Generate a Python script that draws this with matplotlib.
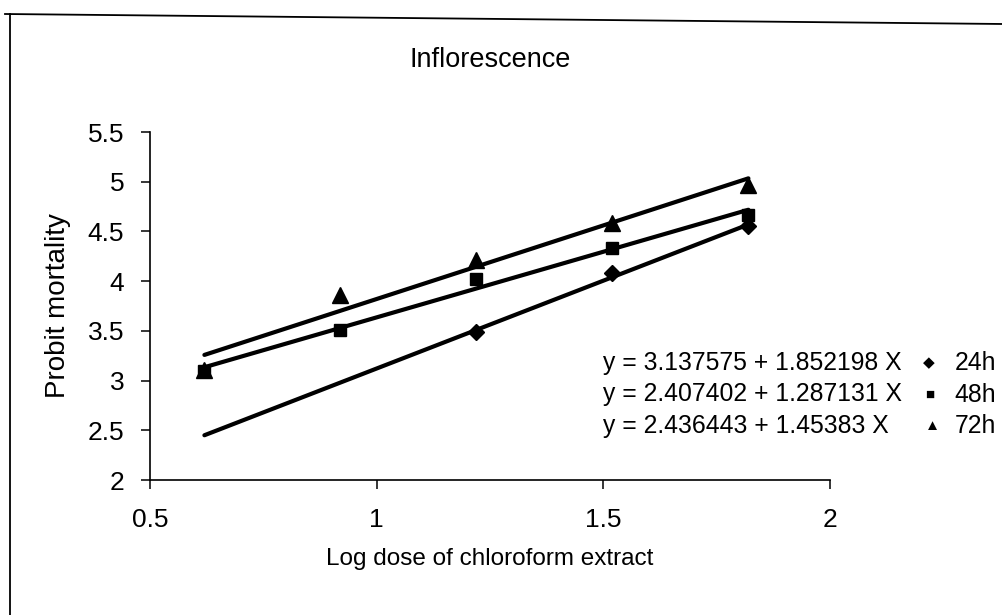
import numpy as np
import matplotlib.pyplot as plt
from matplotlib.lines import Line2D

plt.rcParams["font.family"] = ["Liberation Sans", "DejaVu Sans"]

log_dose = np.array([0.62, 0.92, 1.22, 1.52, 1.82])
probit_24h = np.array([np.nan, np.nan, 3.49, 4.08, 4.55])
probit_48h = np.array([3.10, 3.51, 4.02, 4.33, 4.67])
probit_72h = np.array([3.11, 3.86, 4.21, 4.58, 4.97])

equations = [
    "y = 3.137575 + 1.852198 X",
    "y = 2.407402 + 1.287131 X",
    "y = 2.436443 + 1.45383 X",
]
series_marks = ["\u25c6", "\u25a0", "\u25b2"]
series_names = ["24h", "48h", "72h"]

W, H = 1003, 615
fig = plt.figure(figsize=(W / 100, H / 100), dpi=100)
ax = fig.add_axes([150 / W, 1 - 480 / H, 680 / W, 348 / H])


def fit_line(x, y):
    ok = ~np.isnan(y)
    b, a = np.polyfit(x[ok], y[ok], 1)
    xs = np.array([log_dose[0], log_dose[-1]])
    return xs, a + b * xs


for y, mk, ms in [(probit_24h, "D", 8), (probit_48h, "s", 9), (probit_72h, "^", 11)]:
    xs, ys = fit_line(log_dose, y)
    ax.plot(xs, ys, color="black", lw=3, solid_capstyle="round")
    ax.plot(log_dose, y, ls="none", marker=mk, ms=ms, color="black")

ax.set_xlim(0.5, 2)
ax.set_ylim(2, 5.5)
ax.set_xticks([0.5, 1, 1.5, 2])
ax.set_xticklabels(["0.5", "1", "1.5", "2"])
ax.set_yticks([2, 2.5, 3, 3.5, 4, 4.5, 5, 5.5])
ax.set_yticklabels(["2", "2.5", "3", "3.5", "4", "4.5", "5", "5.5"])
ax.spines["top"].set_visible(False)
ax.spines["right"].set_visible(False)
ax.spines["left"].set_linewidth(1.2)
ax.spines["bottom"].set_linewidth(1.2)
ax.tick_params(direction="out", length=6.5, width=1.1, labelsize=19)
ax.tick_params(axis="x", pad=14)
ax.tick_params(axis="y", pad=12)
ax.set_xlabel("Log dose of chloroform extract", fontsize=17.5, labelpad=11)
ax.set_ylabel("Probit mortality", fontsize=20, labelpad=12)
fig.text(490 / W, 1 - 60 / H, "Inflorescence", fontsize=19.5, ha="center", va="center")

mark_x = [929, 930, 932]
for i, eq in enumerate(equations):
    ypix = 363 + i * 31.5
    fig.text(603 / W, 1 - ypix / H, eq, fontsize=17.8, va="center", ha="left")
    fig.text(mark_x[i] / W, 1 - ypix / H, series_marks[i], fontsize=11,
             va="center", ha="center")
    fig.text(996 / W, 1 - ypix / H, series_names[i], fontsize=17.8,
             va="center", ha="right")

# scanned frame around the chart
fig.add_artist(Line2D([5 / W, 1], [1 - 14 / H, 1 - 24 / H], color="black", lw=1.3))
fig.add_artist(Line2D([10 / W, 10 / W], [1 - 14 / H, 0], color="black", lw=1.3))

fig.savefig("out.png", dpi=100)
